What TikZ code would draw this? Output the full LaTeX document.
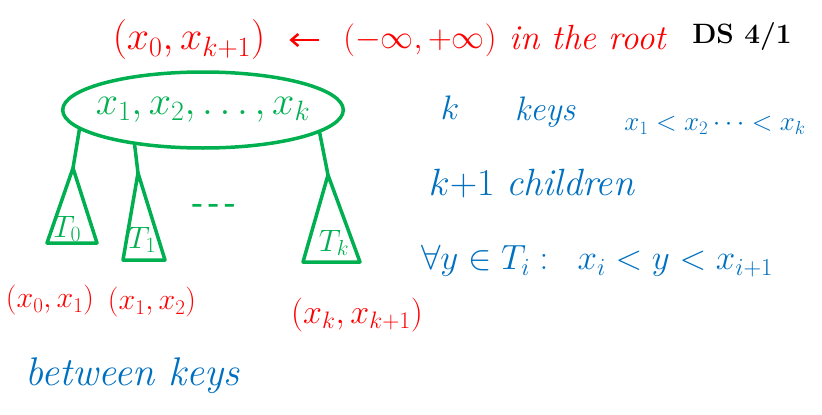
\RequirePackage{fix-cm}
\documentclass[tikz,border=0pt]{standalone}
\usetikzlibrary{shapes.geometric,arrows.meta}
\definecolor{hred}{RGB}{255,0,0}
\definecolor{hgreen}{RGB}{0,176,80}
\definecolor{hblue}{RGB}{0,112,192}
\begin{document}
\begin{tikzpicture}[x=1pt,y=-1pt,
  gline/.style={draw=hgreen,line width=3.5pt,line cap=round,line join=round},
  gtxt/.style={text=hgreen,font=\fontsize{31}{34}\selectfont,inner sep=0pt},
  rtxt/.style={text=hred,font=\fontsize{30}{34}\selectfont,inner sep=0pt},
  btxt/.style={text=hblue,font=\fontsize{30}{34}\selectfont,inner sep=0pt},
  ktxt/.style={text=black,font=\fontsize{28}{32}\selectfont\bfseries,inner sep=0pt},
]
\useasboundingbox (0,0) rectangle (822,415);
% top line
\node[rtxt,font=\fontsize{40}{44}\selectfont] (rng) at (189,40) {$(x_0, x_{k+1})$};
\node[rtxt,font=\fontsize{33}{36}\selectfont] (inf) at (420,40) {$(-\infty, +\infty)$};
\node[rtxt,font=\fontsize{35}{38}\selectfont\itshape] (inroot) at (588,38) {in the root};
\node[ktxt] (ds) at (742,36) {DS 4/1};
\draw[draw=hred,line width=2.5pt,-{Straight Barb[length=7pt,width=12pt]},shorten >=24pt,shorten <=24pt] (inf) -- (rng);
% root node
\node[ellipse,gline,minimum width=274pt,minimum height=76pt,inner xsep=-8pt,inner ysep=0pt,text=hgreen,font=\fontsize{40}{44}\selectfont] (root) at (203,110) {$x_1, x_2, \ldots, x_k$};
% subtrees
\coordinate (a0) at (73,168);
\coordinate (a1) at (138,173);
\coordinate (ak) at (328,175);
\draw[gline] (a0) -- (47,243) -- (97,243) -- cycle;
\draw[gline] (a1) -- (123,260) -- (165,260) -- cycle;
\draw[gline] (ak) -- (303,262) -- (360,262) -- cycle;
\draw[gline] (root.189) -- (a0);
\draw[gline] (root.207) -- (a1);
\draw[gline] (root.349) -- (ak);
\node[gtxt] (t0) at (67,229) {$T_0$};
\node[gtxt] (t1) at (142,240) {$T_1$};
\node[gtxt] (tk) at (334,243) {$T_k$};
\node[gtxt,font=\fontsize{30}{34}\selectfont\bfseries] (dots) at (214,208) {-\,-\,-};
% interval labels
\node[rtxt] (i0) at (50,300) {$(x_0, x_1)$};
\node[rtxt] (i1) at (152,302) {$(x_1, x_2)$};
\node[rtxt,font=\fontsize{34}{38}\selectfont] (ik) at (357,315) {$(x_k, x_{k+1})$};
\node[btxt,font=\fontsize{40}{44}\selectfont\itshape] (between) at (132,376) {between keys};
% right notes
\node[btxt,font=\fontsize{34}{38}\selectfont] (k) at (450,108) {$k$};
\node[btxt,font=\fontsize{34}{38}\selectfont\itshape] (keys) at (545,112) {keys};
\node[btxt,font=\fontsize{27}{30}\selectfont] (order) at (715,125) {$x_1 < x_2 \cdots < x_k$};
\node[btxt,font=\fontsize{38}{42}\selectfont] (children) at (532,184) {$k{+}1$ \textit{children}};
\node[btxt,font=\fontsize{35}{40}\selectfont] (forall) at (597,261) {$\forall y \in T_i :\;\; x_i < y < x_{i+1}$};
\end{tikzpicture}
\end{document}
